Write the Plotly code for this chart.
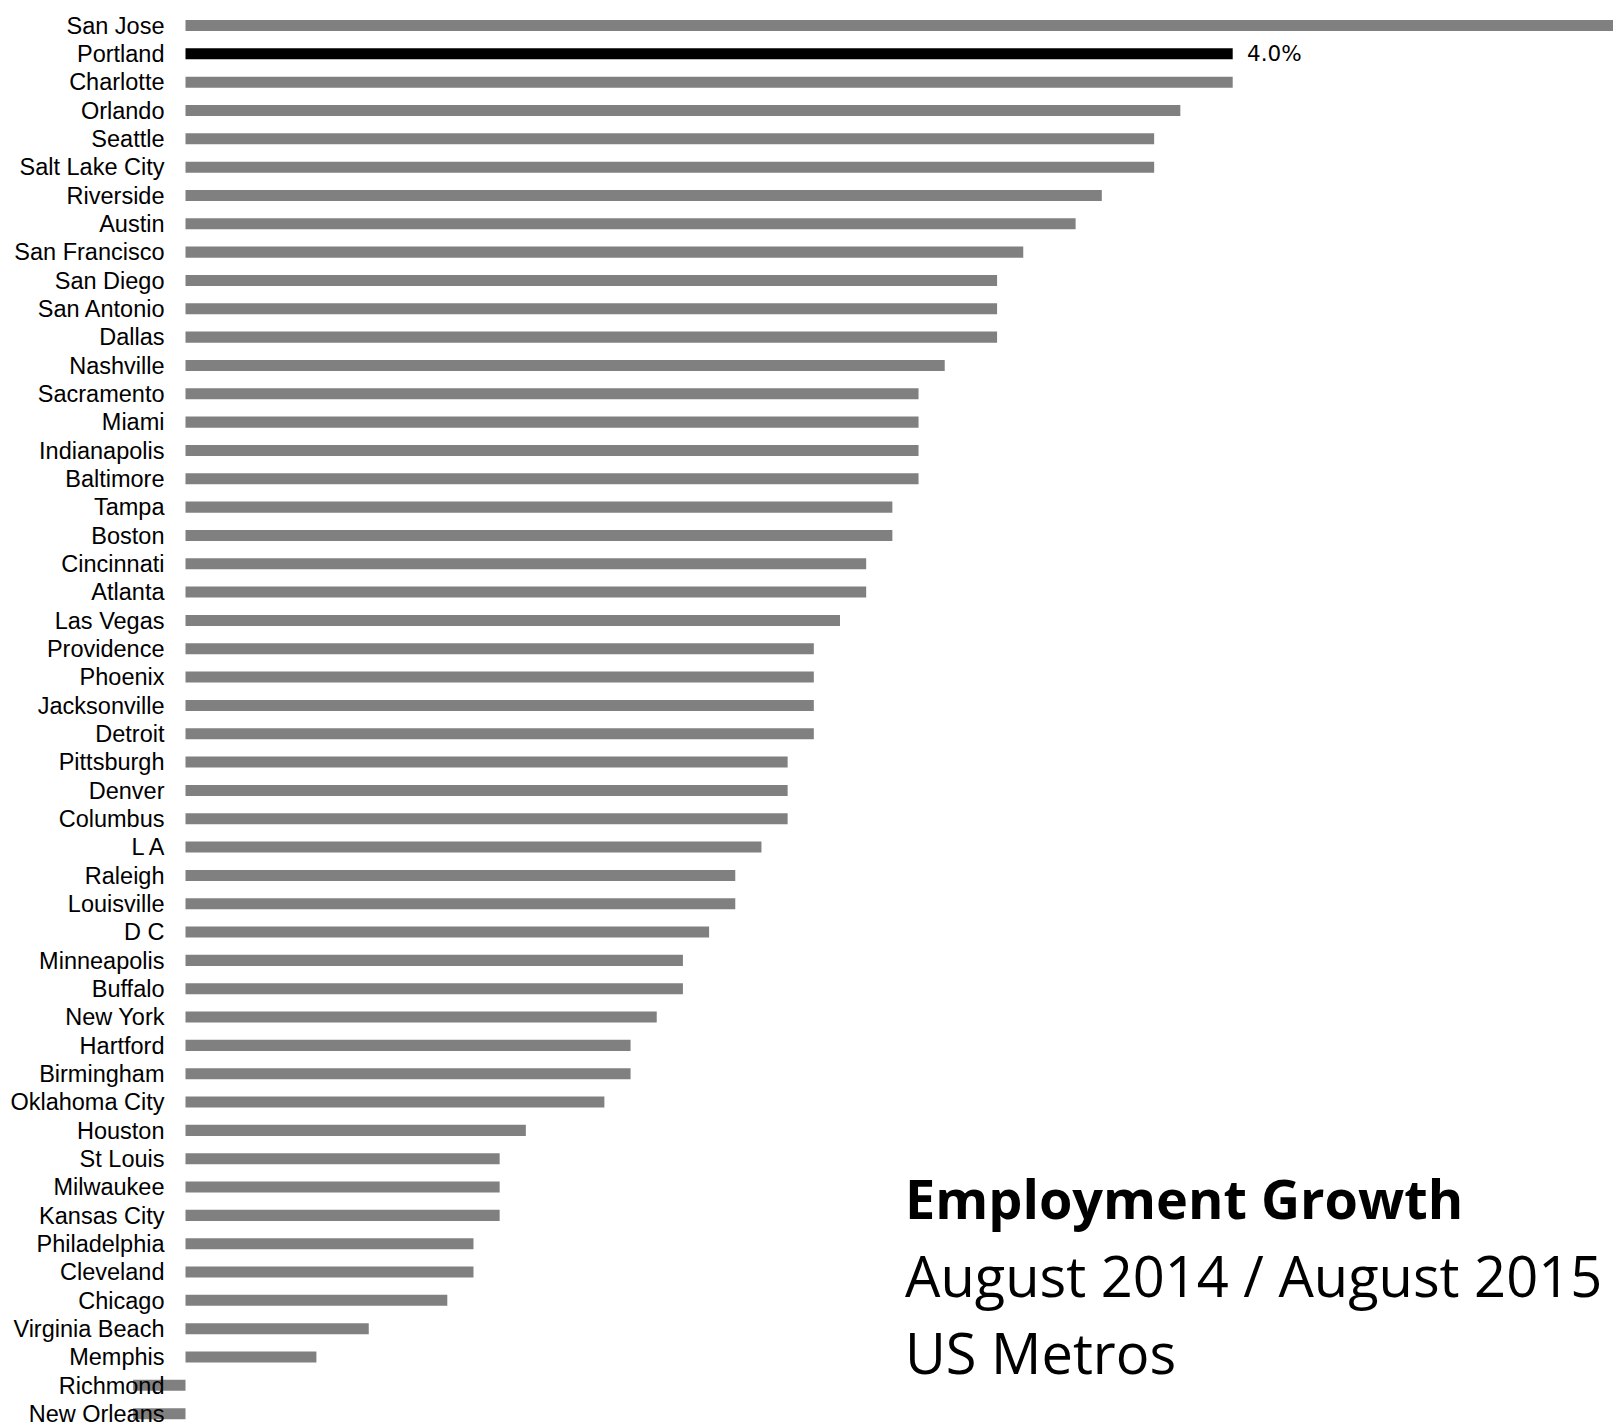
import plotly.graph_objects as go

metros = ["San Jose", "Portland", "Charlotte", "Orlando", "Seattle", "Salt Lake City",
          "Riverside", "Austin", "San Francisco", "San Diego", "San Antonio", "Dallas",
          "Nashville", "Sacramento", "Miami", "Indianapolis", "Baltimore", "Tampa",
          "Boston", "Cincinnati", "Atlanta", "Las Vegas", "Providence", "Phoenix",
          "Jacksonville", "Detroit", "Pittsburgh", "Denver", "Columbus", "L A",
          "Raleigh", "Louisville", "D C", "Minneapolis", "Buffalo", "New York",
          "Hartford", "Birmingham", "Oklahoma City", "Houston", "St Louis",
          "Milwaukee", "Kansas City", "Philadelphia", "Cleveland", "Chicago",
          "Virginia Beach", "Memphis", "Richmond", "New Orleans"]
growth = [5.6, 4.0, 4.0, 3.8, 3.7, 3.7,
          3.5, 3.4, 3.2, 3.1, 3.1, 3.1,
          2.9, 2.8, 2.8, 2.8, 2.8, 2.7,
          2.7, 2.6, 2.6, 2.5, 2.4, 2.4,
          2.4, 2.4, 2.3, 2.3, 2.3, 2.2,
          2.1, 2.1, 2.0, 1.9, 1.9, 1.8,
          1.7, 1.7, 1.6, 1.3, 1.2,
          1.2, 1.2, 1.1, 1.1, 1.0,
          0.7, 0.5, -0.2, -0.2]
highlight = "Portland"
title_lines = ["<b>Employment Growth</b>", "August 2014 / August 2015", "US Metros"]

# the page body has an 8px default margin; size the figure to compensate
W, H = 1613, 1417
colors = ["#000000" if m == highlight else "#808080" for m in metros]

fig = go.Figure(go.Bar(
    x=growth, y=metros, orientation="h",
    marker=dict(color=colors, line=dict(width=0)),
    width=0.39, hoverinfo="x+y",
))

hl_val = growth[metros.index(highlight)]
fig.add_annotation(x=hl_val, y=highlight, xref="x", yref="y",
                   text=f"{hl_val:.1f}%", showarrow=False, xanchor="left",
                   yanchor="middle", xshift=12,
                   font=dict(family="DejaVu Sans", size=21.5, color="#000000"))

ys = [1190, 1267, 1344]
sizes = [54, 56, 56]
for t, yp, s in zip(title_lines, ys, sizes):
    fig.add_annotation(x=895 / W, y=1 - yp / H, xref="paper", yref="paper",
                       text=t, showarrow=False, xanchor="left", yanchor="middle",
                       font=dict(family="Open Sans", size=s, color="#000000"))

px_per = 261.8
x0 = 177.5
spacing = 28.33
r0 = -17.5 / spacing
r1 = r0 + H / spacing
fig.update_layout(
    width=W, height=H,
    margin=dict(l=0, r=0, t=0, b=0),
    paper_bgcolor="white", plot_bgcolor="white",
    showlegend=False,
    xaxis=dict(range=[-x0 / px_per, (W - x0) / px_per], visible=False,
               showgrid=False, zeroline=False),
    yaxis=dict(range=[r1, r0], showgrid=False, zeroline=False,
               showline=False, ticks="", anchor="free", position=x0 / W,
               automargin=False, ticklabelstandoff=21,
               tickmode="array", tickvals=metros, ticktext=metros,
               tickfont=dict(family="Liberation Sans, Arial", size=23.5, color="#000000")),
)

fig.write_html("out.html")
